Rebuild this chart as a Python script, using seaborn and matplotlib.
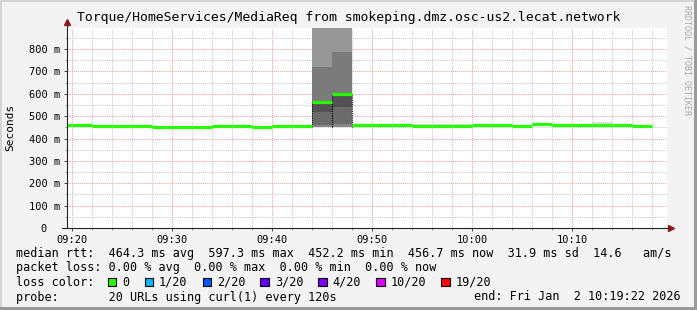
import matplotlib
matplotlib.use("Agg")
import matplotlib.pyplot as plt
from matplotlib.patches import Rectangle
import seaborn as sns
import numpy as np
import pandas as pd

# ---------------- data ----------------
# column start times, minutes after 09:00 (each column = 2 minutes)
col_start_min = [18, 20, 22, 24, 26, 28, 30, 32, 34, 36, 38, 40, 42, 44, 46,
                 48, 50, 52, 54, 56, 58, 60, 62, 64, 66, 68, 70, 72, 74, 76]
col_width_min = 2
# median round trip time per column (ms)
median_ms = [459, 459, 456, 456, 456, 452.5, 452.5, 452.5, 456, 456, 452.5, 456, 456, 565, 597.3,
             459, 459, 459, 457, 457, 457, 459, 459, 457, 466, 459, 459, 459, 459, 456.7]
# upper edge of the light smoke per column (ms)
smoke_top_ms = [459, 459, 456, 459, 459, 452.5, 452.5, 452.5, 456, 456, 452.5, 456, 456, 565, 597.3,
                462, 459, 459, 465, 465, 465, 459, 459, 457, 470, 461, 461, 473, 465, 456.7]
# smoke layers of the two spike columns (ms): band boundaries bottom -> top
spike_start_min = [44, 46]
spike_layers_ms = [[451.5, 460.0, 517.0, 565.0, 721.0, 1200.0],
                   [453.0, 463.6, 542.0, 597.3, 788.0, 1200.0]]
layer_colors = ["#858585", "#6b6b6b", "#525252", "#7b7b7b", "#969696"]

xtick_min = [20, 30, 40, 50, 60, 70]
xtick_labels = ["09:20", "09:30", "09:40", "09:50", "10:00", "10:10"]
ytick_vals = [0.0, 0.1, 0.2, 0.3, 0.4, 0.5, 0.6, 0.7, 0.8]
ytick_labels = ["0  ", "100 m", "200 m", "300 m", "400 m", "500 m", "600 m", "700 m", "800 m"]

title = "Torque/HomeServices/MediaReq from smokeping.dmz.osc-us2.lecat.network"
legend_rtt = "median rtt:  464.3 ms avg  597.3 ms max  452.2 ms min  456.7 ms now  31.9 ms sd  14.6   am/s"
legend_loss = "packet loss: 0.00 % avg  0.00 % max  0.00 % min  0.00 % now"
loss_labels = ["0", "1/20", "2/20", "3/20", "4/20", "10/20", "19/20"]
loss_colors = ["#26ff00", "#00b8ff", "#0059ff", "#5e00ff", "#7e00ff", "#dd00ff", "#ff0000"]
probe_text = "probe:       20 URLs using curl(1) every 120s"
end_text = "end: Fri Jan  2 10:19:22 2026"

# ---------------- figure ----------------
W, H = 697, 310
MONO = "DejaVu Sans Mono"
plt.rcParams["font.family"] = [MONO, "DejaVu Sans"]

fig = plt.figure(figsize=(W / 100, H / 100), dpi=100, facecolor="#f3f3f3")
ax = fig.add_axes([67 / W, 82 / H, 600 / W, 200 / H])
ax.set_facecolor("white")

starts = np.array(col_start_min, dtype=float)
ends = starts + col_width_min
med = np.array(median_ms) / 1000.0
stop = np.array(smoke_top_ms) / 1000.0

# light smoke above median
ax.bar(starts, stop - med, bottom=med, width=col_width_min, align="edge",
       color="#dcdcdc", linewidth=0, zorder=2)

# spike smoke layers
for s, layers in zip(spike_start_min, spike_layers_ms):
    b = np.array(layers) / 1000.0
    ax.bar([s] * (len(b) - 1), np.diff(b), bottom=b[:-1], width=col_width_min,
           align="edge", color=layer_colors, linewidth=0, zorder=2)

# dotted dark edges around spike columns
for s, layers in zip(spike_start_min, spike_layers_ms):
    lo = layers[0] / 1000.0
    hi = layers[3] / 1000.0
    ax.vlines([s, s + col_width_min], lo, hi, colors="#1a1a1a",
              linestyles=(0, (1, 1)), linewidth=0.8, zorder=3)

# median line: one flat segment per column (seaborn)
seg = pd.DataFrame({
    "t": np.concatenate([starts, ends]),
    "rtt": np.concatenate([med, med]),
    "col": np.concatenate([np.arange(len(starts)), np.arange(len(starts))]),
})
sns.lineplot(data=seg, x="t", y="rtt", units="col", estimator=None,
             color=loss_colors[0], linewidth=2.3, ax=ax, zorder=4,
             legend=False, solid_capstyle="butt")

# axes limits / grid
ax.set_xlim(19.5, 79.5)
ax.set_ylim(0, 0.894)
ax.set_xticks(xtick_min)
ax.set_xticklabels(xtick_labels)
ax.set_xticks(np.arange(20, 80, 2), minor=True)
ax.set_yticks(ytick_vals)
ax.set_yticklabels(ytick_labels)
ax.set_yticks(np.arange(0.05, 0.894, 0.1), minor=True)
ax.set_xlabel("")
ax.set_ylabel("")

ax.grid(which="minor", color="#c8c8c8", linestyle=(0, (1, 1)), linewidth=0.75)
ax.grid(which="major", color="#f2a0a0", linestyle=(0, (1, 1)), linewidth=0.75)
ax.set_axisbelow(True)

ax.tick_params(axis="both", which="major", length=2.5, width=0.7, color="#444444",
               labelsize=7.5, pad=2.5, labelcolor="black")
ax.tick_params(axis="both", which="minor", length=1.5, width=0.6, color="#888888")
for lab in ax.get_xticklabels() + ax.get_yticklabels():
    lab.set_fontfamily(MONO)

for sp in ["top", "right"]:
    ax.spines[sp].set_visible(False)
ax.spines["left"].set_visible(False)
ax.spines["bottom"].set_visible(False)
# axis lines with arrows
ax.plot([0, 0], [0, 1.025], transform=ax.transAxes, color="#222222", lw=0.8,
        clip_on=False, zorder=5)
ax.plot([-0.008, 1.006], [0, 0], transform=ax.transAxes, color="#222222", lw=0.8,
        clip_on=False, zorder=5)
ax.plot([0], [1.03], marker="^", markersize=4.5, color="#8b1a1a",
        transform=ax.transAxes, clip_on=False, zorder=6)
ax.plot([1.007], [0], marker=">", markersize=4.5, color="#8b1a1a",
        transform=ax.transAxes, clip_on=False, zorder=6)


def px(x, y):
    return x / W, 1 - y / H


# title and labels
fig.text(*px(348.5, 18), title, ha="center", va="center", fontsize=9.45,
         family=MONO, color="black")
fig.text(*px(10, 127), "Seconds", ha="center", va="center", rotation=90,
         fontsize=8, family=MONO, color="black")
fig.text(*px(687, 60), "RRDTOOL / TOBI OETIKER", ha="center", va="center",
         rotation=-90, fontsize=6, family=MONO, color="#a8a8a8")

# legend lines
LFS = 8.5
fig.text(*px(16, 253), legend_rtt, ha="left", va="center", fontsize=LFS, family=MONO)
fig.text(*px(16, 268), legend_loss, ha="left", va="center", fontsize=LFS, family=MONO)
fig.text(*px(16, 282), "loss color:", ha="left", va="center", fontsize=LFS, family=MONO)
xb = 108.0
for lbl, c in zip(loss_labels, loss_colors):
    fig.patches.append(Rectangle(((xb) / W, 1 - 286.3 / H), 8.4 / W, 8.4 / H,
                                 transform=fig.transFigure, facecolor=c,
                                 edgecolor="black", linewidth=0.8))
    fig.text(*px(xb + 14.5, 282), lbl, ha="left", va="center", fontsize=LFS, family=MONO)
    xb = xb + 14.5 + 7.1 * len(lbl) + 15
fig.text(*px(16, 297), probe_text, ha="left", va="center", fontsize=LFS, family=MONO)
fig.text(*px(681, 297), end_text, ha="right", va="center", fontsize=LFS, family=MONO)

# frame shading
fig.patches.append(Rectangle((0, 1 - 2 / H), 1, 2 / H, transform=fig.transFigure,
                             facecolor="#d4d4d4", edgecolor="none"))
fig.patches.append(Rectangle((0, 0), 2 / W, 1, transform=fig.transFigure,
                             facecolor="#d4d4d4", edgecolor="none"))
fig.patches.append(Rectangle((1 - 3 / W, 0), 3 / W, 1, transform=fig.transFigure,
                             facecolor="#9a9a9a", edgecolor="none"))
fig.patches.append(Rectangle((0, 0), 1, 3 / H, transform=fig.transFigure,
                             facecolor="#9a9a9a", edgecolor="none"))

fig.savefig("out.png", dpi=100, facecolor=fig.get_facecolor())
